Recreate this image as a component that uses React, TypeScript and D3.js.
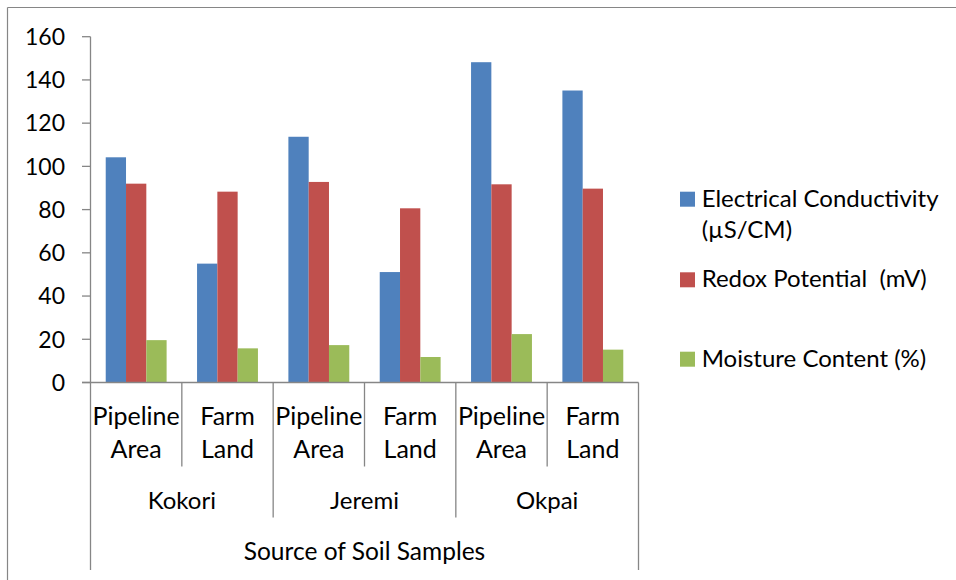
import React from "react";
import * as d3 from "d3";

const groups = ["Kokori", "Jeremi", "Okpai"];
const subCategories = ["Pipeline Area", "Farm Land", "Pipeline Area", "Farm Land", "Pipeline Area", "Farm Land"];
const seriesNames = ["Electrical Conductivity (µS/CM)", "Redox Potential  (mV)", "Moisture Content (%)"];
const conductivity = [104.2, 55.0, 113.7, 51.1, 148.2, 135.1];
const redox = [92.0, 88.3, 92.8, 80.6, 91.7, 89.7];
const moisture = [19.6, 15.8, 17.3, 11.8, 22.4, 15.2];
const yTicks = [0, 20, 40, 60, 80, 100, 120, 140, 160];
const axisTitle = "Source of Soil Samples";

const colors = ["#4F81BD", "#C0504D", "#9BBB59"];
const series = [conductivity, redox, moisture];
const gray = "#868686";
const font = "Lato, 'Open Sans', sans-serif";

export default function App() {
  const W = 956, H = 580;
  const left = 90.5, right = 638.5, top = 36.7, bottom = 382.5;
  const y = d3.scaleLinear().domain([0, 160]).range([bottom, top]);
  const idx = subCategories.map((_, i) => String(i));
  const x0 = d3.scaleBand().domain(idx).range([left, right]).paddingInner(0).paddingOuter(0);
  const x1 = d3.scaleBand().domain(["0", "1", "2"]).range([0, x0.bandwidth()]).paddingInner(0).paddingOuter(0.75);
  const bw = x0.bandwidth();

  const legendY = [
    { sq: 191.7, lines: [206.7, 238.3], text: ["Electrical Conductivity", "(µS/CM)"] },
    { sq: 272.3, lines: [286.7], text: ["Redox Potential  (mV)"] },
    { sq: 351.7, lines: [366.7], text: ["Moisture Content (%)"] },
  ];

  return (
    <svg width={W} height={H} style={{ position: "fixed", left: 0, top: 0, background: "#fff" }} fontFamily={font}>
      <rect x={0} y={0} width={W} height={H} fill="#fff" />
      {/* outer frame (left and top visible) */}
      <line x1={7.5} y1={7.5} x2={7.5} y2={H} stroke={gray} strokeWidth={1.2} />
      <line x1={7.5} y1={7.5} x2={W} y2={7.5} stroke={gray} strokeWidth={1.2} />

      {/* bars */}
      {series.map((vals, s) =>
        vals.map((v, i) => (
          <rect
            key={`b${s}-${i}`}
            x={(x0(String(i)) as number) + (x1(String(s)) as number)}
            y={y(v)}
            width={x1.bandwidth()}
            height={bottom - y(v)}
            fill={colors[s]}
          />
        ))
      )}

      {/* y axis */}
      <line x1={left} y1={top} x2={left} y2={bottom} stroke={gray} strokeWidth={1.3} />
      {yTicks.map((t) => (
        <g key={`t${t}`}>
          <line x1={82} x2={left} y1={y(t)} y2={y(t)} stroke={gray} strokeWidth={1.3} />
          <text x={65} y={y(t)} dy="0.36em" textAnchor="end" fontSize={23} fill="#000">
            {t}
          </text>
        </g>
      ))}

      {/* x axis */}
      <line x1={82} y1={bottom} x2={right} y2={bottom} stroke={gray} strokeWidth={1.3} />
      {d3.range(7).map((k) => {
        const xx = left + k * bw;
        const end = k === 0 || k === 6 ? 570 : k % 2 === 0 ? 517.5 : 466.5;
        return <line key={`s${k}`} x1={xx} x2={xx} y1={bottom} y2={end} stroke={gray} strokeWidth={1.3} />;
      })}
      {subCategories.map((c, i) => {
        const cx = (x0(String(i)) as number) + bw / 2;
        const parts = c.split(" ");
        return (
          <text key={`c${i}`} textAnchor="middle" fontSize={25} fill="#000">
            <tspan x={cx} y={425}>{parts[0]}</tspan>
            <tspan x={cx} y={457.5}>{parts[1]}</tspan>
          </text>
        );
      })}
      {groups.map((g, gi) => (
        <text key={`g${gi}`} x={left + (gi * 2 + 1) * bw} y={509} textAnchor="middle" fontSize={24} fill="#000">
          {g}
        </text>
      ))}
      <text x={(left + right) / 2} y={560} textAnchor="middle" fontSize={24.5} fill="#000">
        {axisTitle}
      </text>

      {/* legend */}
      {legendY.map((l, i) => (
        <g key={`l${i}`}>
          <rect x={680} y={l.sq} width={15} height={15} fill={colors[i]} />
          {l.text.map((t, j) => (
            <text key={j} x={701.7} y={l.lines[j]} fontSize={24} fill="#000" style={{ whiteSpace: "pre" }}>
              {t}
            </text>
          ))}
        </g>
      ))}
      <title>{seriesNames.join(", ")}</title>
    </svg>
  );
}
